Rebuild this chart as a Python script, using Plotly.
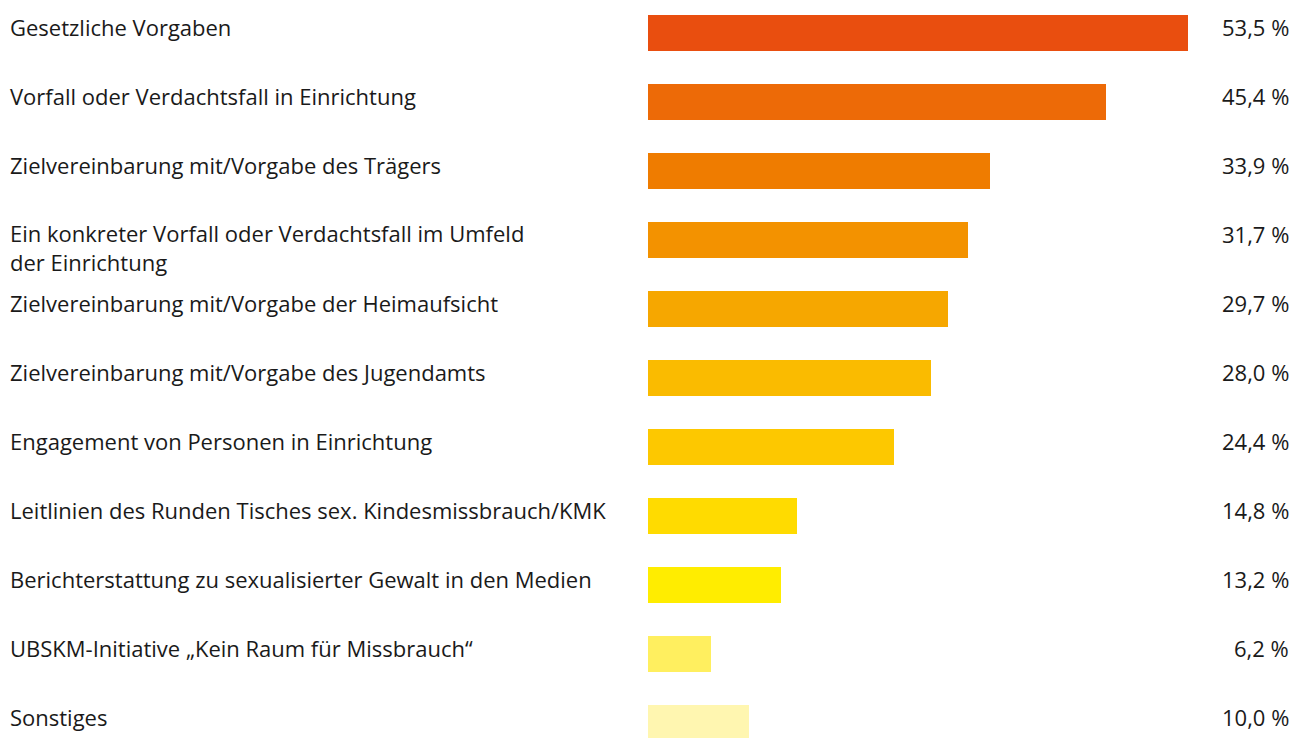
import plotly.graph_objects as go

labels = [
    "Gesetzliche Vorgaben",
    "Vorfall oder Verdachtsfall in Einrichtung",
    "Zielvereinbarung mit/Vorgabe des Trägers",
    "Ein konkreter Vorfall oder Verdachtsfall im Umfeld<br>der Einrichtung",
    "Zielvereinbarung mit/Vorgabe der Heimaufsicht",
    "Zielvereinbarung mit/Vorgabe des Jugendamts",
    "Engagement von Personen in Einrichtung",
    "Leitlinien des Runden Tisches sex. Kindesmissbrauch/KMK",
    "Berichterstattung zu sexualisierter Gewalt in den Medien",
    "UBSKM-Initiative „Kein Raum für Missbrauch“",
    "Sonstiges",
]
values = [53.5, 45.4, 33.9, 31.7, 29.7, 28.0, 24.4, 14.8, 13.2, 6.2, 10.0]
colors = [
    "#E94E0F", "#ED6A07", "#EF7C00", "#F39200", "#F6A700", "#FABB00",
    "#FDC800", "#FFDB00", "#FFED00", "#FFEF5F", "#FFF6B0",
]

# the page puts the figure 8px in from the top-left corner
OFF = 8
W, H = 1300, 738
ROW = 69                  # px between bar centres
FIRST = 33 - OFF          # px of first bar centre
BAR_PX = 36
X0 = 648 - OFF            # px of zero
PX_PER = 540 / 53.5

bar_w = BAR_PX / ROW
pos = list(range(len(values)))

fig = go.Figure()
fig.add_trace(go.Bar(
    x=values, y=pos, orientation="h", width=bar_w,
    marker=dict(color=colors, line=dict(width=0)),
    hoverinfo="skip",
))

font = dict(family="Open Sans", size=22, color="#1a1a1a")
for i, (lab, v) in enumerate(zip(labels, values)):
    n_lines = lab.count("<br>") + 1
    fig.add_annotation(
        x=(8 - OFF) / W, xref="paper", y=i, yref="y",
        text=lab, showarrow=False, xanchor="left", yanchor="middle",
        align="left", font=font, yshift=6 - (n_lines - 1) * 13,
    )
    fig.add_annotation(
        x=(1291 - OFF) / W, xref="paper", y=i, yref="y",
        text=f"{v:.1f}".replace(".", ",") + " %", showarrow=False,
        xanchor="right", yanchor="middle", font=font, yshift=6,
    )

top = -FIRST / ROW
fig.update_layout(
    width=W, height=H,
    margin=dict(l=0, r=0, t=0, b=0),
    paper_bgcolor="white", plot_bgcolor="white",
    showlegend=False,
    bargap=0,
    xaxis=dict(domain=[X0 / W, 1], range=[0, (W - X0) / PX_PER],
               visible=False, fixedrange=True),
    yaxis=dict(range=[top + H / ROW, top], visible=False, fixedrange=True),
)

fig.write_html("out.html")
